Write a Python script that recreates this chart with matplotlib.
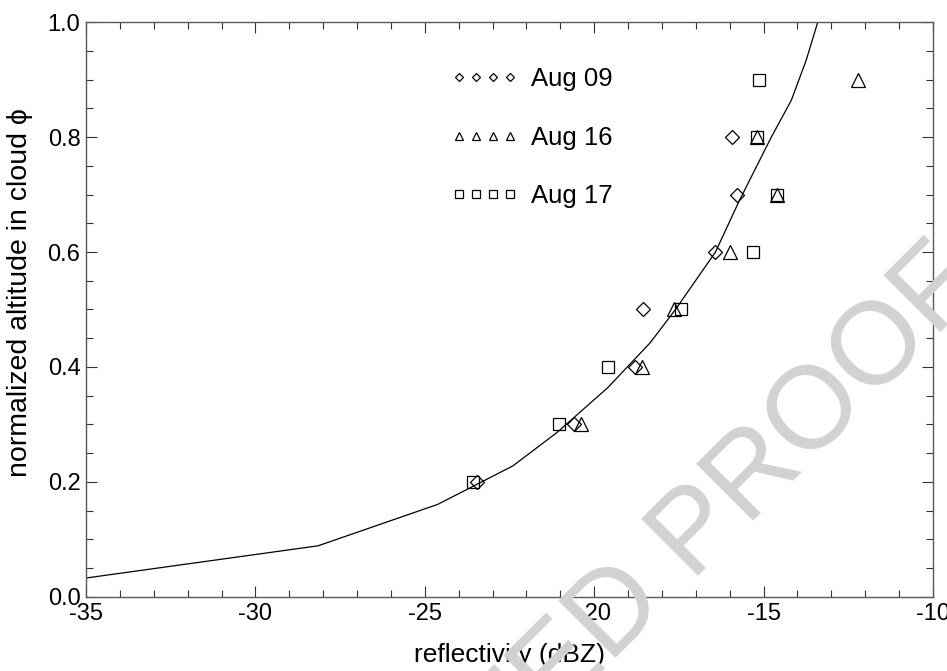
import numpy as np
import matplotlib
matplotlib.use('Agg')
from matplotlib import pyplot as plt
from matplotlib.ticker import MultipleLocator

plt.rcParams['font.family'] = ['Liberation Sans', 'DejaVu Sans']

# observed reflectivity (dBZ) at each normalized altitude
phi_0809 = [0.2, 0.3, 0.4, 0.5, 0.6, 0.7, 0.8]
dbz_0809 = [-23.45, -20.6, -18.8, -18.55, -16.43, -15.78, -15.93]

phi_0816 = [0.3, 0.4, 0.5, 0.6, 0.7, 0.8, 0.9]
dbz_0816 = [-20.38, -18.6, -17.65, -16.0, -14.6, -15.2, -12.2]

phi_0817 = [0.2, 0.3, 0.4, 0.5, 0.6, 0.7, 0.8, 0.9]
dbz_0817 = [-23.57, -21.05, -19.6, -17.43, -15.32, -14.6, -15.2, -15.15]

# model profile
model_dbz = [-35.0, -28.15, -24.62, -22.4, -21.1, -19.6, -18.35, -17.6,
             -16.42, -15.71, -15.36, -14.77, -14.18, -13.74, -13.40]
model_phi = [0.033, 0.089, 0.161, 0.228, 0.286, 0.364, 0.442, 0.5,
             0.6, 0.69, 0.731, 0.80, 0.864, 0.934, 1.0]


def main():
    fig = plt.figure(figsize=(9.47, 6.71), dpi=100)
    ax = fig.add_axes([0.0908, 0.1103, 0.8944, 0.8569])

    ax.plot(model_dbz, model_phi, color='black', lw=0.9)

    style = dict(linestyle='none', mfc='none', mec='black', mew=0.9)
    ax.plot(dbz_0809, phi_0809, marker='D', ms=7, label='Aug 09', **style)
    ax.plot(dbz_0816, phi_0816, marker='^', ms=9.5, label='Aug 16', **style)
    ax.plot(dbz_0817, phi_0817, marker='s', ms=8.8, label='Aug 17', **style)

    ax.set_xlim(-35, -10)
    ax.set_ylim(0, 1)
    ax.xaxis.set_major_locator(MultipleLocator(5))
    ax.xaxis.set_minor_locator(MultipleLocator(1))
    ax.yaxis.set_major_locator(MultipleLocator(0.2))
    ax.yaxis.set_minor_locator(MultipleLocator(0.05))
    ax.xaxis.set_major_formatter(lambda v, p: f'{v:.0f}')
    ax.yaxis.set_major_formatter(lambda v, p: f'{v:.1f}')
    ax.tick_params(which='both', direction='in', top=True, right=True,
                   labelsize=17, width=0.8, color='0.2', pad=4)
    ax.tick_params(which='major', length=8)
    ax.tick_params(which='minor', length=5)
    for s in ax.spines.values():
        s.set_color('0.35')
        s.set_linewidth(1.0)

    ax.set_xlabel('reflectivity (dBZ)', fontsize=19, labelpad=13)
    ax.set_ylabel('normalized altitude in cloud \u03d5', fontsize=20.5)
    ax.yaxis.set_label_coords(-0.062, 0.53)

    ax.legend(loc='upper left', bbox_to_anchor=(0.4316, 0.922),
              numpoints=4, markerscale=0.6, frameon=False, fontsize=18.5,
              handlelength=2.58, handletextpad=0.5, labelspacing=1.35,
              borderpad=0, borderaxespad=0)

    # diagonal proof watermark
    fig.text(0.029, -0.858, 'UNCORRECTED PROOF', fontsize=84, color='#d2d2d2',
             rotation=45, ha='left', va='baseline',
             rotation_mode='anchor', zorder=10)

    fig.savefig('out.png', dpi=100)


if __name__ == '__main__':
    main()
